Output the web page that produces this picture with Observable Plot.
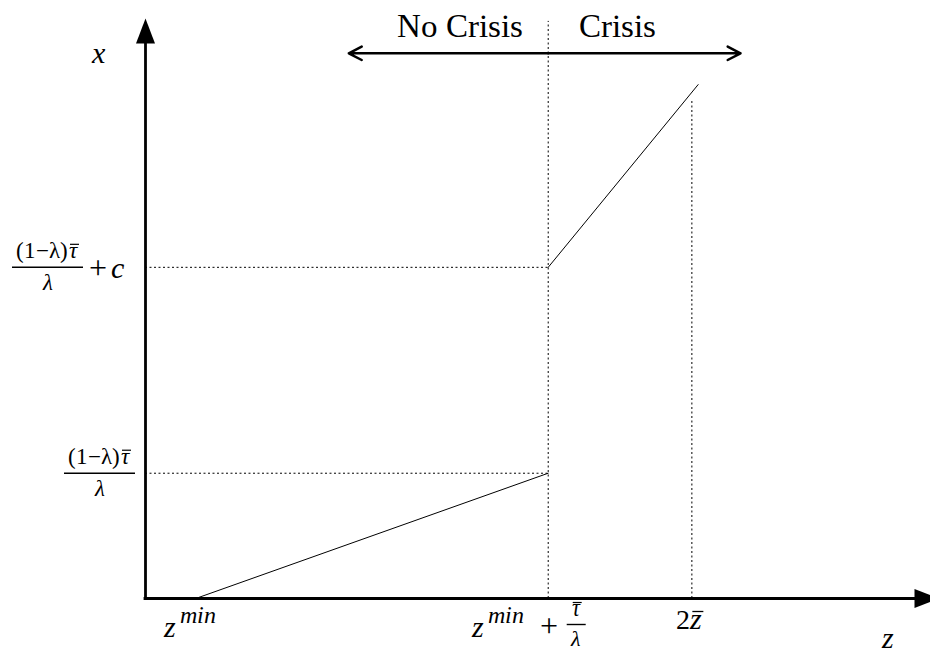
<!DOCTYPE html>
<html>
<head>
<meta charset="utf-8">
<script src="https://cdn.jsdelivr.net/npm/d3@7"></script>
<script src="https://cdn.jsdelivr.net/npm/@observablehq/plot@0.6"></script>
<style>
  html, body { margin: 0; padding: 0; background: #fff; }
  @font-face { font-family: "LSLocal"; font-style: normal; src: local("Liberation Serif"), local("LiberationSerif"); }
  @font-face { font-family: "LSItal"; font-style: italic; src: local("Liberation Serif Italic"), local("LiberationSerif-Italic"), local("DejaVu Serif Italic"), local("DejaVuSerif-Italic"); }
</style>
</head>
<body>
<div id="chart"></div>
<script>
// ---- data (arbitrary model units) ----
const zTicks = [6.4, 51.3, 69.6];          // z^min, z^min + τ̄/λ, 2z̄
const xTicks = [21.6, 57.1];               // (1−λ)τ̄/λ, (1−λ)τ̄/λ + c
const lowerZ = [6.4, 51.3];
const lowerX = [0, 21.6];
const upperZ = [51.3, 70.4];
const upperX = [57.1, 88.6];
const dottedTops = [99.5, 85.9];           // top ends of vertical guides at zTicks[1], zTicks[2]
const regimeArrowY = 94;
const regimeArrowEnds = [25.9, 75.8];      // left / right tips
const regimeLabels = ["No Crisis", "Crisis"];

const lowerBranch = lowerZ.map((z, i) => ({z, x: lowerX[i]}));
const upperBranch = upperZ.map((z, i) => ({z, x: upperX[i]}));
const zCrit = zTicks[1];

const FONT = "LSLocal, 'DejaVu Serif'";
const FONT_I = "LSItal, 'DejaVu Serif'";

function label(text, xv, yv, dx, dy, size, italic, anchor) {
  return Plot.text([text], {
    x: xv, y: yv, text: d => d, dx, dy,
    fontSize: size, fontStyle: italic ? "italic" : "normal",
    fontFamily: italic ? FONT_I : FONT, textAnchor: anchor, lineAnchor: "bottom", fill: "black"
  });
}
function barSymbol(w, h) {
  return {draw(ctx) { ctx.rect(-w / 2, -h / 2, w, h); }};
}
function bar(xv, yv, dx, dy, w, h = 1.4) {
  return Plot.dot([0], {x: xv, y: yv, dx, dy, r: 1, symbol: barSymbol(w, h), fill: "black", stroke: "none"});
}
const upHead = {draw(ctx) { ctx.moveTo(0, 0); ctx.lineTo(-9.5, 25); ctx.lineTo(9.5, 25); ctx.closePath(); }};
const rightHead = {draw(ctx) { ctx.moveTo(0, 0); ctx.lineTo(-25, -9.5); ctx.lineTo(-25, 9.5); ctx.closePath(); }};

const paren = "(1\u2212\u03BB)";
const tau = "\u03C4";
const lam = "\u03BB";

function yFrac(yv, cx) {
  // numerator "(1−λ)τ̄" over "λ", centred at dx = cx
  return [
    label(paren, 0, yv, cx + 20, -9, 23, false, "end"),
    label(tau, 0, yv, cx + 21, -9, 23, true, "start"),
    bar(0, yv, cx + 27, -23, 9, 1.2),
    bar(0, yv, cx, 0, 71),
    label(lam, 0, yv, cx, 23, 23, true, "middle")
  ];
}

const chart = Plot.plot({
  width: 930,
  height: 655,
  marginLeft: 145,
  marginRight: 0,
  marginTop: 18,
  marginBottom: 57,
  x: {domain: [0, 100], axis: null},
  y: {domain: [0, 100], axis: null},
  style: {background: "white", overflow: "visible"},
  marks: [
    // dotted guides
    Plot.ruleX([{z: zTicks[1], top: dottedTops[0]}, {z: zTicks[2], top: dottedTops[1]}],
      {x: "z", y1: 0, y2: "top", stroke: "black", strokeWidth: 1, strokeDasharray: "2,2.5"}),
    Plot.ruleY(xTicks, {y: d => d, x1: 0, x2: zCrit, stroke: "black", strokeWidth: 1, strokeDasharray: "2,2.5"}),
    // branches
    Plot.line(lowerBranch, {x: "z", y: "x", stroke: "black", strokeWidth: 1}),
    Plot.line(upperBranch, {x: "z", y: "x", stroke: "black", strokeWidth: 1}),
    // axes with filled arrowheads
    Plot.ruleY([0], {x1: 0, x2: 98, stroke: "black", strokeWidth: 2.8, strokeLinecap: "square"}),
    Plot.ruleX([0], {y1: 0, y2: 96, stroke: "black", strokeWidth: 2.8, strokeLinecap: "square"}),
    Plot.dot([0], {x: 0, y: 100, r: 1, symbol: upHead, fill: "black", stroke: "none"}),
    Plot.dot([0], {x: 100, y: 0, dx: 9, r: 1, symbol: rightHead, fill: "black", stroke: "none"}),
    // regime arrow
    Plot.arrow(regimeArrowEnds.map(e => ({from: zCrit, to: e})),
      {x1: "from", x2: "to", y1: regimeArrowY, y2: regimeArrowY, stroke: "black", strokeWidth: 2.5, headLength: 8.7, headAngle: 55}),
    label(regimeLabels[0], zCrit, regimeArrowY, -25, -16, 33, false, "end"),
    label(regimeLabels[1], zCrit, regimeArrowY, 31, -16, 33, false, "start"),
    // axis names
    Plot.text(["x"], {frameAnchor: "top-left", text: d => d, dx: -47, dy: 44, fontSize: 30, fontStyle: "italic", fontFamily: FONT_I, textAnchor: "middle", lineAnchor: "bottom"}),
    Plot.text(["z"], {frameAnchor: "bottom-right", text: d => d, dx: -43, dy: 49, fontSize: 30, fontStyle: "italic", fontFamily: FONT_I, textAnchor: "middle", lineAnchor: "bottom"}),
    // z tick labels
    label("z", zTicks[0], 0, -32, 38, 30, true, "start"),
    label("min", zTicks[0], 0, -16, 24, 24, true, "start"),
    label("z", zTicks[1], 0, -76, 38, 30, true, "start"),
    label("min", zTicks[1], 0, -60, 24, 24, true, "start"),
    label("+", zTicks[1], 0, 1, 37, 32, false, "middle"),
    label(tau, zTicks[1], 0, 28, 17, 22, true, "middle"),
    bar(zTicks[1], 0, 29, 4, 9, 1.2),
    bar(zTicks[1], 0, 28, 26, 19),
    label(lam, zTicks[1], 0, 28, 47, 22, true, "middle"),
    label("2", zTicks[2], 0, -2, 30, 28, false, "end"),
    label("z", zTicks[2], 0, -2, 30, 30, true, "start"),
    bar(zTicks[2], 0, 6, 13, 11, 1.3),
    // x tick labels
    ...yFrac(xTicks[1], -98),
    label("+", 0, xTicks[1], -48, 11, 32, false, "middle"),
    label("c", 0, xTicks[1], -35, 11, 30, true, "start"),
    ...yFrac(xTicks[0], -46)
  ]
});
document.getElementById("chart").appendChild(chart);
</script>
</body>
</html>
